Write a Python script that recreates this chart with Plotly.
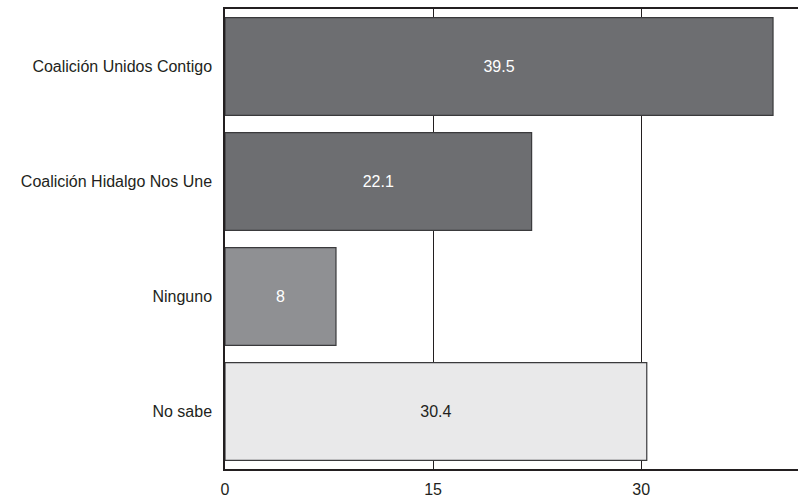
import plotly.graph_objects as go

categories = ["Coalición Unidos Contigo", "Coalición Hidalgo Nos Une", "Ninguno", "No sabe"]
values = [39.5, 22.1, 8, 30.4]
bar_colors = ["#6d6e71", "#6d6e71", "#8f9093", "#e9e9ea"]
text_colors = ["white", "white", "white", "#231f20"]
tick_vals = [0, 15, 30]

fig = go.Figure()
fig.add_trace(go.Bar(
    y=categories,
    x=values,
    orientation="h",
    marker=dict(color=bar_colors, line=dict(color="#3a3a3c", width=1.2)),
    text=[str(v) for v in values],
    textposition="inside",
    insidetextanchor="middle",
    textfont=dict(family="Liberation Sans, Arial, sans-serif", size=16, color=text_colors),
    hoverinfo="skip",
))

fig.update_layout(
    width=798, height=498,
    margin=dict(l=225, r=0, t=9, b=29),
    paper_bgcolor="white",
    plot_bgcolor="white",
    bargap=0.15,
    showlegend=False,
    font=dict(family="Liberation Sans, Arial, sans-serif", size=16, color="#231f20"),
    xaxis=dict(
        range=[0, 41.3],
        tickvals=tick_vals,
        ticktext=[str(t) for t in tick_vals],
        showgrid=True, gridcolor="#231f20", gridwidth=1,
        zeroline=False,
        showline=True, linecolor="#231f20", linewidth=1.5, mirror=True,
        ticks="", tickfont=dict(size=16), ticklabelstandoff=5,
        automargin=False,
    ),
    yaxis=dict(
        categoryorder="array",
        categoryarray=list(reversed(categories)),
        showgrid=False, zeroline=False,
        showline=True, linecolor="#231f20", linewidth=1.5,
        ticks="", ticklabelstandoff=8,
        tickfont=dict(size=16),
        automargin=False,
    ),
)

fig.write_html(
    "out.html",
    config={"displayModeBar": False},
    post_script="document.body.style.margin='0';document.body.style.overflow='hidden';",
)
